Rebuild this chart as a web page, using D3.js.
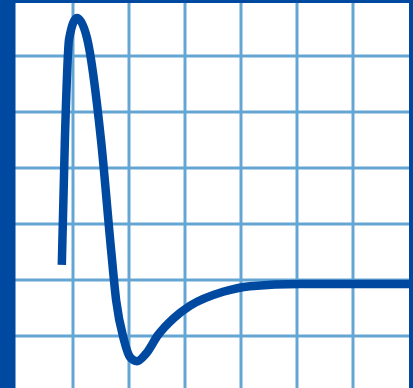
<!DOCTYPE html>
<html>
<head>
<meta charset="utf-8">
<script src="https://cdn.jsdelivr.net/npm/d3@7"></script>
<style>
html,body{margin:0;padding:0;background:#fff;overflow:hidden;}
svg{display:block;}
</style>
</head>
<body>
<svg id="chart" width="413" height="388"></svg>
<script>
// Data (grid units)
const timeValues = [0.80, 0.855, 0.93, 1.07, 1.25, 1.50, 1.68, 1.77, 1.91, 2.02, 2.14, 2.30, 2.52, 2.80, 3.09, 3.68, 4.16, 5.05, 7.0];
const responseValues = [2.27, 4.50, 6.30, 6.68, 6.32, 4.50, 2.54, 1.64, 0.93, 0.62, 0.55, 0.68, 1.02, 1.32, 1.54, 1.79, 1.89, 1.93, 1.93];
const xTicks = [1, 2, 3, 4, 5, 6];
const yTicks = [1, 2, 3, 4, 5, 6];

const W = 413, H = 388;
const dark = "#0049a0", light = "#64a6d3";
const svg = d3.select("#chart");
const x = d3.scaleLinear().domain([0, 7]).range([17, 409]);
const y = d3.scaleLinear().domain([0, 7]).range([392, 0]);

// grid
svg.append("g").selectAll("line").data(xTicks).join("line")
  .attr("x1", d => x(d)).attr("x2", d => x(d))
  .attr("y1", 0).attr("y2", H)
  .attr("stroke", light).attr("stroke-width", 3);
svg.append("g").selectAll("line").data(yTicks).join("line")
  .attr("x1", 15).attr("x2", 409)
  .attr("y1", d => y(d)).attr("y2", d => y(d))
  .attr("stroke", light).attr("stroke-width", 3);

// curve
const pts = timeValues.map((t, i) => [t, responseValues[i]]);
const line = d3.line().x(d => x(d[0])).y(d => y(d[1])).curve(d3.curveMonotoneX);
svg.append("path").datum(pts)
  .attr("d", line)
  .attr("fill", "none")
  .attr("stroke", dark)
  .attr("stroke-width", 8.5)
  .attr("stroke-linejoin", "round")
  .attr("stroke-linecap", "butt");

// frame
svg.append("rect").attr("x", 0).attr("y", 0).attr("width", 15.5).attr("height", H).attr("fill", dark);
svg.append("rect").attr("x", 0).attr("y", 0).attr("width", W).attr("height", 3).attr("fill", dark);
svg.append("rect").attr("x", 409).attr("y", 0).attr("width", 4).attr("height", H).attr("fill", dark);
</script>
</body>
</html>
